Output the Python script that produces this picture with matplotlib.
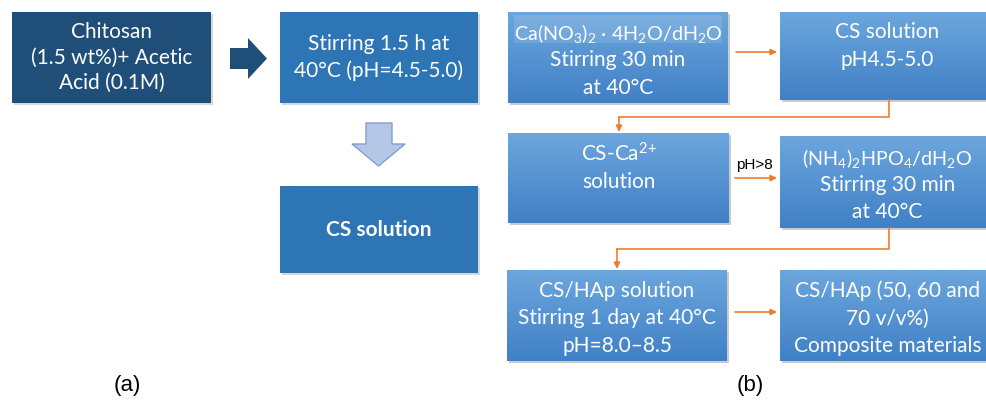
import matplotlib.pyplot as plt
import matplotlib.patches as mpatches
import numpy as np

plt.rcParams['font.family'] = ['Lato', 'DejaVu Sans']
plt.rcParams['mathtext.fontset'] = 'custom'
plt.rcParams['mathtext.rm'] = 'Lato'
plt.rcParams['mathtext.it'] = 'Lato:italic'
plt.rcParams['mathtext.bf'] = 'Lato:bold'

# Texts of panel (a)
a_labels = ['Chitosan\n(1.5 wt%)+ Acetic\nAcid (0.1M)',
            'Stirring 1.5 h at\n40°C (pH=4.5-5.0)',
            'CS solution']

# Texts of panel (b), read left to right, top to bottom
b_labels = ['Ca(NO$_3$)$_2$ · 4H$_2$O/dH$_2$O\nStirring 30 min\nat 40°C',
            'CS solution\npH4.5-5.0',
            'CS-Ca$^{2{+}}$\nsolution',
            '(NH$_4$)$_2$HPO$_4$/dH$_2$O\nStirring 30 min\nat 40°C',
            'CS/HAp solution\nStirring 1 day at 40°C\npH=8.0–8.5',
            'CS/HAp (50, 60 and\n70 v/v%)\nComposite materials']
arrow_label = 'pH>8'
panel_names = ['(a)', '(b)']

W, H = 987, 405
fig = plt.figure(figsize=(W / 100, H / 100), dpi=100)
ax = fig.add_axes([0, 0, 1, 1])
ax.set_xlim(0, W)
ax.set_ylim(H, 0)
ax.axis('off')

ORANGE = '#ed7d31'


def flat_box(x0, y0, x1, y1, color, text, bold=False):
    # soft shadow
    ax.add_patch(mpatches.Rectangle((x0 + 2, y0 + 2), x1 - x0, y1 - y0,
                                    color='#b0b0b0', alpha=0.5, lw=0, zorder=1))
    ax.add_patch(mpatches.Rectangle((x0, y0), x1 - x0, y1 - y0,
                                    color=color, lw=0, zorder=2))
    ax.text((x0 + x1) / 2, (y0 + y1) / 2, text, color='white', fontsize=15,
            ha='center', va='center', linespacing=1.35,
            fontweight='bold' if bold else 'normal', zorder=3)


def grad_box(x0, y0, x1, y1, text, step=27.5):
    ax.add_patch(mpatches.Rectangle((x0 + 2, y0 + 2), x1 - x0, y1 - y0,
                                    color='#a8a8a8', alpha=0.6, lw=0, zorder=1))
    grad = np.linspace(0, 1, 64).reshape(-1, 1)
    top = np.array([0x6c, 0xa6, 0xdd]) / 255
    bot = np.array([0x40, 0x80, 0xc6]) / 255
    img = top + (bot - top) * grad[..., None]
    ax.imshow(img, extent=(x0, x1, y1, y0), aspect='auto', zorder=2,
              interpolation='bilinear')
    lines = text.split('\n')
    n = len(lines)
    yc = (y0 + y1) / 2 + (1 if n == 3 else -12)
    for i, line in enumerate(lines):
        size = 14.2 if '$_' in line else 15
        ax.text((x0 + x1) / 2, yc + (i - (n - 1) / 2) * step, line,
                color='white', fontsize=size, ha='center', va='center_baseline',
                zorder=3)


def orange_arrow(x0, x1, y):
    ax.annotate('', xy=(x1, y), xytext=(x0, y),
                arrowprops=dict(arrowstyle='-|>', color=ORANGE, lw=1.2,
                                mutation_scale=9, shrinkA=0, shrinkB=0),
                zorder=4)


def elbow(xs, ys_top, y_mid, xe, ye):
    ax.plot([xs, xs, xe], [ys_top, y_mid, y_mid], color=ORANGE, lw=1.2, zorder=4)
    ax.annotate('', xy=(xe, ye), xytext=(xe, y_mid),
                arrowprops=dict(arrowstyle='-|>', color=ORANGE, lw=1.2,
                                mutation_scale=9, shrinkA=0, shrinkB=0),
                zorder=4)


# panel (a)
flat_box(12, 12, 211, 103, '#1f4e79', a_labels[0])
flat_box(280, 12, 478, 103, '#2e75b6', a_labels[1])
flat_box(280, 186, 478, 273, '#2e75b6', a_labels[2], bold=True)

ax.add_patch(mpatches.Polygon([(230, 48), (248, 48), (248, 38), (267, 58.5),
                               (248, 79), (248, 69), (230, 69)],
                              closed=True, color='#1f4e79', lw=0, zorder=2))
ax.add_patch(mpatches.Polygon([(366, 123), (392, 123), (392, 144), (405, 144),
                               (378.5, 166), (352, 144), (366, 144)],
                              closed=True, facecolor='#b4c7e7',
                              edgecolor='#7f9fcf', lw=1, zorder=2))

# panel (b)
boxes_b = [(508, 12, 728, 103), (780, 12, 995, 100),
           (508, 133, 729, 223), (780, 136, 995, 228),
           (507, 270, 727, 361), (780, 270, 995, 361)]
for (x0, y0, x1, y1), lab in zip(boxes_b, b_labels):
    grad_box(x0, y0, x1, y1, lab)

# lighter band behind the first formula line
ax.add_patch(mpatches.Rectangle((514, 15), 208, 28, color='white',
                                alpha=0.12, lw=0, zorder=2.5))

orange_arrow(736, 777, 52)
orange_arrow(735, 777, 178)
orange_arrow(735, 777, 312)
ax.text(736, 172, arrow_label, fontsize=11, color='black',
        family=['Liberation Sans', 'DejaVu Sans'], ha='left', va='bottom', zorder=4)

elbow(889, 100, 117, 619, 132)
elbow(889, 228, 249, 617, 269)

ax.text(127, 385, panel_names[0], fontsize=16, ha='center', va='center',
        family=['Liberation Sans', 'DejaVu Sans'])
ax.text(750, 385, panel_names[1], fontsize=16, ha='center', va='center',
        family=['Liberation Sans', 'DejaVu Sans'])

fig.savefig('out.png', dpi=100)
